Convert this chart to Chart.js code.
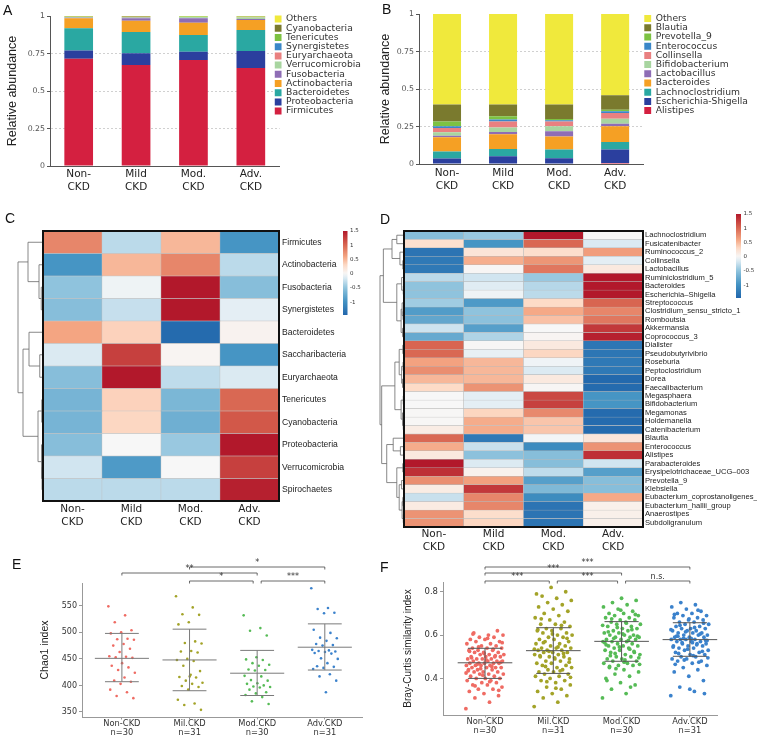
<!DOCTYPE html>
<html><head><meta charset="utf-8">
<script src="https://cdn.jsdelivr.net/npm/chart.js@4.4.1/dist/chart.umd.min.js"></script>
<style>
body{margin:0;background:#fff;width:757px;height:739px;position:relative;overflow:hidden}
canvas{position:absolute}
.lab{position:absolute;font-family:'Liberation Sans',Arial,sans-serif;font-size:14px;line-height:14px;color:#111;z-index:5}
</style></head><body>
<canvas id="cA" width="378" height="200" style="left:0;top:0"></canvas>
<canvas id="cB" width="379" height="200" style="left:378px;top:0"></canvas>
<canvas id="cC" width="378" height="335" style="left:0;top:200px"></canvas>
<canvas id="cD" width="379" height="358" style="left:378px;top:200px"></canvas>
<canvas id="cE" width="378" height="204" style="left:0;top:535px"></canvas>
<canvas id="cF" width="379" height="181" style="left:378px;top:558px"></canvas>
<div class="lab" style="left:3px;top:3px">A</div>
<div class="lab" style="left:382px;top:2px">B</div>
<div class="lab" style="left:5px;top:211px">C</div>
<div class="lab" style="left:380px;top:212px">D</div>
<div class="lab" style="left:12px;top:557px">E</div>
<div class="lab" style="left:380px;top:560px">F</div>
<script>
// ---------------- DATA ----------------
const groupsAB = [['Non-','CKD'],['Mild','CKD'],['Mod.','CKD'],['Adv.','CKD']];
const abTicks = [0, 0.25, 0.5, 0.75, 1];

// Panel A: phylum relative abundance (Non, Mild, Mod, Adv)
const firmicutes      = [0.715, 0.673, 0.707, 0.653];
const proteobacteria  = [0.055, 0.078, 0.055, 0.114];
const bacteroidetes   = [0.148, 0.142, 0.111, 0.140];
const actinobacteria  = [0.067, 0.076, 0.082, 0.066];
const fusobacteria    = [0.004, 0.016, 0.030, 0.007];
const verrucomicrobia = [0.002, 0.003, 0.006, 0.010];
const euryarchaeota   = [0.001, 0.002, 0.001, 0.001];
const synergistetes   = [0.001, 0.001, 0.001, 0.001];
const tenericutes     = [0.002, 0.003, 0.003, 0.003];
const cyanobacteria   = [0.002, 0.002, 0.001, 0.002];
const othersA         = [0.003, 0.004, 0.003, 0.003];
const phylaNames = ['Firmicutes','Proteobacteria','Bacteroidetes','Actinobacteria','Fusobacteria','Verrucomicrobia','Euryarchaeota','Synergistetes','Tenericutes','Cyanobacteria','Others'];
const phylaValues = [firmicutes, proteobacteria, bacteroidetes, actinobacteria, fusobacteria, verrucomicrobia, euryarchaeota, synergistetes, tenericutes, cyanobacteria, othersA];

// Panel B: genus relative abundance
const alistipes        = [0.004, 0.004, 0.003, 0.007];
const escherichia      = [0.032, 0.047, 0.035, 0.089];
const lachnoclostridium= [0.048, 0.049, 0.058, 0.051];
const bacteroides      = [0.094, 0.098, 0.088, 0.104];
const lactobacillus    = [0.011, 0.015, 0.034, 0.018];
const bifidobacterium  = [0.022, 0.031, 0.033, 0.033];
const collinsella      = [0.029, 0.040, 0.033, 0.038];
const enterococcus     = [0.011, 0.012, 0.007, 0.011];
const prevotella9      = [0.033, 0.022, 0.009, 0.011];
const blautia          = [0.112, 0.078, 0.096, 0.096];
const othersB          = [0.604, 0.604, 0.604, 0.542];
const genusNames = ['Alistipes','Escherichia-Shigella','Lachnoclostridium','Bacteroides','Lactobacillus','Bifidobacterium','Collinsella','Enterococcus','Prevotella_9','Blautia','Others'];
const genusValues = [alistipes, escherichia, lachnoclostridium, bacteroides, lactobacillus, bifidobacterium, collinsella, enterococcus, prevotella9, blautia, othersB];

// Panel C heatmap (z-scores), rows top to bottom
const cRows = ['Firmicutes','Actinobacteria','Fusobacteria','Synergistetes','Bacteroidetes','Saccharibacteria','Euryarchaeota','Tenericutes','Cyanobacteria','Proteobacteria','Verrucomicrobia','Spirochaetes'];
const cNon  = [0.8, -0.95, -0.5, -0.55, 0.6, -0.15, -0.55, -0.65, -0.65, -0.55, -0.2, -0.3];
const cMild = [-0.3, 0.5, -0.05, -0.25, 0.35, 1.25, 1.5, 0.35, 0.32, 0.0, -0.9, -0.3];
const cMod  = [0.5, 0.8, 1.5, 1.5, -1.4, 0.03, -0.28, -0.62, -0.7, -0.45, 0.0, -0.3];
const cAdv  = [-0.95, -0.3, -0.55, -0.1, 0.05, -0.95, -0.15, 1.0, 1.1, 1.5, 1.25, 1.45];
const cTree = [[0, [1, [2, 3, 0.07], 0.16], 0.6], [[4, [5, 6, 0.13], 0.56], [[7, 8, 0.05], [9, [10, 11, 0.04], 0.06], 0.2], 0.8], 1.0];

// Panel D heatmap (z-scores)
const dRows = ['Lachnoclostridium','Fusicatenibacter','Ruminococcus_2','Collinsella','Lactobacillus','Ruminiclostridium_5','Bacteroides','Escherichia\u2013Shigella','Streptococcus','Clostridium_sensu_stricto_1','Romboutsia','Akkermansia','Coprococcus_3','Dialister','Pseudobutyrivibrio','Roseburia','Peptoclostridium','Dorea','Faecalibacterium','Megasphaera','Bifidobacterium','Megamonas','Holdemanella','Catenibacterium','Blautia','Enterococcus','Alistipes','Parabacteroides','Erysipelotrichaceae_UCG\u2013003','Prevotella_9','Klebsiella','Eubacterium_coprostanoligenes_','Eubacterium_hallii_group','Anaerostipes','Subdoligranulum'];
const dNon  = [-0.55, 0.25, -1.3, -1.25, -1.25, -0.3, -0.5, -0.5, -0.42, -0.88, -0.78, -0.22, -0.75, 1.02, 1.0, 0.62, 0.75, 0.5, 0.3, 0.0, 0.0, 0.01, 0.01, 0.12, 1.0, 0.56, 0.15, 1.5, 1.35, 0.75, 0.12, -0.24, 0.13, 0.72, 0.72];
const dMild = [-0.45, -0.95, 0.2, 0.55, 0.02, -0.2, -0.12, -0.05, -0.9, -0.5, -0.52, -0.85, -0.35, 0.01, -0.08, 0.5, 0.5, 0.5, 0.72, -0.1, -0.1, 0.33, 0.56, 0.56, -1.25, -0.24, -0.52, -0.14, 0.06, 0.63, 1.3, 0.8, 0.8, 0.27, 0.32];
const dMod  = [1.5, 1.0, 0.27, 0.7, 0.9, -0.45, -0.32, -0.3, 0.3, 0.58, 0.45, 0.0, 0.03, 0.15, 0.32, -0.04, -0.14, 0.15, 0.02, 1.2, 1.25, 0.78, 0.42, 0.42, -0.02, -1.05, -0.55, -0.55, -0.28, -0.85, -0.6, -1.05, -1.3, -1.3, -1.3];
const dAdv  = [0.0, -0.15, 0.65, -0.1, 0.15, 1.5, 1.5, 1.5, 1.02, 0.8, 0.9, 1.3, 1.45, -1.28, -1.28, -1.25, -1.25, -1.42, -1.4, -0.95, -0.95, -1.4, -1.4, -1.4, 0.18, 0.72, 1.35, -0.2, -0.85, -0.55, -0.55, 0.58, 0.08, 0.08, 0.08];
const dTree = [
  [[[0, 1, 0.3], [2, [3, 4, 0.05], 0.17], 0.5],
   [[5, [6, 7, 0.03], 0.1], [[8, [9, 10, 0.04], 0.08], [11, 12, 0.06], 0.12], 0.3], 0.86],
  [[[[13, 14, 0.05], [[15, 16, 0.04], [17, 18, 0.06], 0.1], 0.2], [[19, 20, 0.03], [21, [22, 23, 0.03], 0.06], 0.12], 0.38],
   [[24, [25, 26, 0.15], 0.45], [[27, 28, 0.05], [[29, 30, 0.1], [[31, 32, 0.05], [33, 34, 0.03], 0.08], 0.2], 0.3], 0.72], 0.93],
  1.0];
const heatTicks = [1.5, 1, 0.5, 0, -0.5, -1];

// Panel E: Chao1 index per sample
const dotGroups = [['Non-CKD','n=30'],['Mil.CKD','n=31'],['Mod.CKD','n=30'],['Adv.CKD','n=31']];
const chaoNon = [549,532,519,504,500,498,488,487,486,478,475,469,463,455,454,453,452,442,437,434,429,424,415,409,407,403,392,387,380,376];
const chaoMil = [568,547,534,533,519,515,483,480,479,465,464,462,450,448,446,437,427,417,416,415,409,405,403,399,397,392,373,366,363,354,420];
const chaoMod = [532,508,503,494,453,449,448,442,439,437,430,429,428,418,417,410,409,404,403,400,398,397,396,392,387,385,382,378,370,365];
const chaoAdv = [583,546,544,537,536,505,499,490,489,484,478,476,475,467,466,465,464,463,461,460,451,450,442,436,435,433,431,421,417,409,387];
const chaoMean = [451, 448, 423, 472];
const chaoLow  = [407, 390, 381, 429];
const chaoHigh = [498, 506, 466, 516];
const chaoTicks = [350, 400, 450, 500, 550];
const chaoBrackets = [[2, 4, 0, '*'], [1, 3, 1, '**'], [2, 3, 2, '*'], [3, 4, 2, '***']];

// Panel F: Bray-Curtis similarity (sampled pairs)
const bcNon = [0.26,0.29,0.31,0.32,0.33,0.34,0.35,0.35,0.36,0.37,0.37,0.38,0.38,0.39,0.39,0.40,0.40,0.40,0.41,0.41,0.42,0.42,0.42,0.43,0.43,0.43,0.44,0.44,0.44,0.45,0.45,0.45,0.45,0.46,0.46,0.46,0.46,0.47,0.47,0.47,0.47,0.47,0.48,0.48,0.48,0.48,0.49,0.49,0.49,0.49,0.50,0.50,0.50,0.50,0.51,0.51,0.51,0.52,0.52,0.52,0.53,0.53,0.53,0.54,0.54,0.54,0.55,0.55,0.56,0.56,0.57,0.57,0.58,0.58,0.59,0.59,0.60,0.60,0.61,0.62,0.415,0.435,0.455,0.465,0.475,0.485,0.495,0.505,0.445,0.425,0.385,0.365,0.345,0.515,0.525,0.535,0.545,0.565,0.585,0.605];
const bcMil = [0.27,0.29,0.31,0.32,0.33,0.34,0.35,0.36,0.37,0.38,0.39,0.39,0.40,0.41,0.41,0.42,0.42,0.43,0.43,0.44,0.44,0.45,0.45,0.46,0.46,0.47,0.47,0.48,0.48,0.49,0.49,0.50,0.50,0.50,0.51,0.51,0.52,0.52,0.52,0.53,0.53,0.53,0.54,0.54,0.54,0.55,0.55,0.56,0.56,0.57,0.57,0.58,0.58,0.59,0.59,0.60,0.60,0.61,0.61,0.62,0.62,0.63,0.63,0.64,0.65,0.65,0.66,0.67,0.68,0.69,0.70,0.71,0.72,0.73,0.74,0.75,0.76,0.77,0.78,0.80,0.82,0.79,0.435,0.455,0.475,0.495,0.505,0.515,0.525,0.535,0.545,0.565,0.585,0.605,0.625,0.645,0.385,0.405,0.355,0.675];
const bcMod = [0.31,0.33,0.35,0.37,0.38,0.40,0.41,0.42,0.43,0.44,0.45,0.46,0.46,0.47,0.47,0.48,0.48,0.49,0.49,0.50,0.50,0.51,0.51,0.52,0.52,0.53,0.53,0.54,0.54,0.55,0.55,0.55,0.56,0.56,0.57,0.57,0.57,0.58,0.58,0.58,0.59,0.59,0.59,0.60,0.60,0.60,0.61,0.61,0.62,0.62,0.63,0.63,0.64,0.64,0.65,0.65,0.66,0.66,0.67,0.67,0.68,0.68,0.69,0.69,0.70,0.70,0.71,0.72,0.73,0.74,0.75,0.76,0.77,0.39,0.36,0.445,0.465,0.485,0.505,0.525,0.545,0.565,0.575,0.585,0.595,0.605,0.615,0.625,0.635,0.645,0.655,0.675,0.695,0.715,0.555,0.535,0.515,0.495,0.475,0.455];
const bcAdv = [0.32,0.34,0.36,0.39,0.41,0.43,0.44,0.45,0.46,0.47,0.48,0.48,0.49,0.49,0.50,0.50,0.51,0.51,0.52,0.52,0.53,0.53,0.54,0.54,0.55,0.55,0.55,0.56,0.56,0.56,0.57,0.57,0.57,0.58,0.58,0.58,0.58,0.59,0.59,0.59,0.60,0.60,0.60,0.61,0.61,0.61,0.62,0.62,0.62,0.63,0.63,0.63,0.64,0.64,0.65,0.65,0.66,0.66,0.67,0.67,0.68,0.68,0.69,0.69,0.70,0.70,0.71,0.72,0.73,0.74,0.75,0.33,0.35,0.465,0.475,0.485,0.495,0.505,0.515,0.525,0.535,0.545,0.555,0.565,0.575,0.585,0.595,0.605,0.615,0.625,0.635,0.645,0.655,0.675,0.695,0.715,0.585,0.575,0.565,0.595];
const bcMean = [0.472, 0.528, 0.571, 0.579];
const bcLow  = [0.400, 0.423, 0.479, 0.502];
const bcHigh = [0.539, 0.634, 0.662, 0.657];
const bcTicks = [0.4, 0.6, 0.8];
const bcBrackets = [[1, 4, 0, '***'], [1, 3, 1, '***'], [1, 2, 2, '***'], [2, 3, 2, '***'], [3, 4, 2, 'n.s.']];

// ---------------- STYLE ----------------
const SANS = "'Liberation Sans',Arial,sans-serif";
const WIDE = "'DejaVu Sans',Verdana,sans-serif";
const phylaColors = ['#d42040','#2b3f9e','#2aa8a2','#f5a024','#8e6db5','#a8d5a0','#e98080','#3a87c8','#7dc242','#7a7a2e','#f0e93c'];
const genusColors = ['#d42040','#2b3f9e','#2aa8a2','#f5a024','#8e6db5','#a8d5a0','#e98080','#3a87c8','#7dc242','#7a7a2e','#f0e93c'];
const dotColors = ['#ef6b63','#a3a328','#56bb56','#3b82cc'];
const heatStops = [[-1.45,'#2166ac'],[-0.97,'#4393c3'],[-0.48,'#92c5de'],[-0.2,'#d1e5f0'],[0,'#f7f7f7'],[0.3,'#fddbc7'],[0.6,'#f4a582'],[1.05,'#d6604d'],[1.5,'#b2182b']];

Chart.defaults.animation = false;
Chart.defaults.responsive = false;
Chart.defaults.maintainAspectRatio = false;
Chart.defaults.plugins.legend.display = false;
Chart.defaults.plugins.tooltip.enabled = false;
Chart.defaults.font.family = WIDE;
Chart.defaults.color = '#333';

function hex2rgb(h){return [parseInt(h.slice(1,3),16),parseInt(h.slice(3,5),16),parseInt(h.slice(5,7),16)];}
function heatColor(v){
  if (v <= heatStops[0][0]) return heatStops[0][1];
  for (let i = 1; i < heatStops.length; i++) {
    if (v <= heatStops[i][0]) {
      const [v0,c0] = heatStops[i-1], [v1,c1] = heatStops[i];
      const t = (v - v0) / (v1 - v0), a = hex2rgb(c0), b = hex2rgb(c1);
      return 'rgb(' + a.map((x,k)=>Math.round(x + (b[k]-x)*t)).join(',') + ')';
    }
  }
  return heatStops[heatStops.length-1][1];
}

function legendShift(dx, dy){
  return {id:'legendShift', afterLayout(chart){const l = chart.legend; if(!l) return; l.left+=dx; l.right+=dx; l.top+=dy; l.bottom+=dy;}};
}

// ---------------- A & B stacked bars ----------------
function stackChart(id, names, values, colors, o){
  return new Chart(document.getElementById(id), {
    type: 'bar',
    data: {labels: groupsAB, datasets: names.map((n,i)=>({label:n, data:values[i], backgroundColor:colors[i], borderWidth:0, barPercentage:0.5, categoryPercentage:1}))},
    options: {
      layout: {padding: {top:o.top, right:o.right, left:0, bottom:0}},
      scales: {
        x: {stacked:true, grid:{display:false, drawTicks:false}, border:{color:'#555', width:1},
            ticks:{font:{family:WIDE, size:10.5, lineHeight:1.25}, color:'#222', padding:o.xpad, maxRotation:0, autoSkip:false},
            afterFit(s){s.height = o.xh;}},
        y: {stacked:true, min:0, max:1,
            afterBuildTicks(s){s.ticks = abTicks.map(v=>({value:v}));},
            ticks:{font:{family:WIDE, size:7.8}, color:'#555', padding:2, callback:v=>String(v)},
            grid:{color:c=>(c.tick && c.tick.value>0 && c.tick.value<1) ? '#c4c4c4' : 'rgba(0,0,0,0)', lineWidth:0.8, tickColor:'#555', tickLength:3, tickWidth:1},
            border:{color:'#555', width:1, dash:[2,2]},
            title:{display:true, text:'Relative abundance', font:{family:SANS, size:12.5}, color:'#222', padding:{top:o.tpad, bottom:0}},
            afterFit(s){s.width = o.yw;}}
      },
      plugins: {legend:{display:true, position:'right', align:'start', reverse:true, maxWidth:200,
        labels:{boxWidth:7, boxHeight:7, padding:0, font:{family:WIDE, size:9.2}, color:'#333'}}}
    },
    plugins: [legendShift(o.dx, o.dy)]
  });
}
stackChart('cA', phylaNames, phylaValues, phylaColors, {top:16, right:2, xh:34, yw:50, xpad:2, tpad:5.5, dx:-5, dy:-1.5});
stackChart('cB', genusNames, genusValues, genusColors, {top:14, right:0, xh:36, yw:41, xpad:3, tpad:0, dx:1, dy:0});

// ---------------- C & D heatmaps ----------------
function drawTree(ctx, node, yOf, x0, w){
  if (typeof node === 'number') return {y:yOf(node), h:0};
  const a = drawTree(ctx, node[0], yOf, x0, w), b = drawTree(ctx, node[1], yOf, x0, w);
  const h = node[2], xh = x0 - h*w;
  ctx.beginPath();
  ctx.moveTo(x0 - a.h*w, a.y); ctx.lineTo(xh, a.y); ctx.lineTo(xh, b.y); ctx.lineTo(x0 - b.h*w, b.y);
  ctx.stroke();
  return {y:(a.y+b.y)/2, h:h};
}
function heatPlugin(cfg){
  return {id:'heatDeco', afterDraw(chart){
    const ctx = chart.ctx, ca = chart.chartArea, rs = chart.scales.rows;
    ctx.save();
    ctx.strokeStyle = '#6a6a6a'; ctx.lineWidth = 0.8;
    drawTree(ctx, cfg.tree, i=>rs.getPixelForValue(i), ca.left, cfg.treeW);
    ctx.strokeStyle = '#111'; ctx.lineWidth = 2;
    ctx.strokeRect(ca.left, ca.top, ca.right-ca.left, ca.bottom-ca.top);
    const bx = ca.right + cfg.cbx, by = ca.top + cfg.cby, bw = cfg.cbw, bh = cfg.cbh;
    const vmax = 1.5, vmin = -1.45;
    const g = ctx.createLinearGradient(0, by, 0, by+bh);
    for (let k = 0; k <= 30; k++) { const t = k/30; g.addColorStop(t, heatColor(vmax - t*(vmax-vmin))); }
    ctx.fillStyle = g; ctx.fillRect(bx, by, bw, bh);
    ctx.fillStyle = '#333'; ctx.font = '5.5px ' + WIDE; ctx.textBaseline = 'middle'; ctx.textAlign = 'left';
    heatTicks.forEach(v=>{ ctx.fillText(String(v), bx + bw + 2.5, by + (vmax - v)/(vmax - vmin)*bh); });
    ctx.restore();
  }};
}
function heatChart(id, rows, cols, o){
  const N = rows.length, ds = [];
  for (let r = N-1; r >= 0; r--) {
    ds.push({label:rows[r], data:cols.map(()=>1), backgroundColor:cols.map(c=>heatColor(c[r])),
      borderColor:'#b9b9b9', borderWidth:0.5, borderSkipped:false, barPercentage:1, categoryPercentage:1});
  }
  return new Chart(document.getElementById(id), {
    type:'bar',
    data:{labels:groupsAB, datasets:ds},
    options:{
      layout:{padding:{left:o.left, top:o.top, right:0, bottom:0}},
      scales:{
        x:{stacked:true, grid:{display:false, drawTicks:false}, border:{display:false},
           ticks:{font:{family:WIDE, size:10.5, lineHeight:1.25}, color:'#222', padding:o.xpad, maxRotation:0, autoSkip:false},
           afterFit(s){s.height = o.xh;}},
        y:{stacked:true, display:false, min:0, max:N},
        rows:{type:'category', labels:rows, position:'right', offset:true,
              grid:{display:false, drawTicks:false}, border:{display:false},
              ticks:{font:{family:SANS, size:o.fs}, color:'#222', padding:o.rpad, autoSkip:false},
              afterFit(s){s.width = o.rw;}}
      }
    },
    plugins:[heatPlugin(o)]
  });
}
heatChart('cC', cRows, [cNon, cMild, cMod, cAdv], {left:43, top:31, xh:34, rw:99, xpad:2, rpad:3, fs:8.6, tree:cTree, treeW:25, cbx:64, cby:0, cbw:4.5, cbh:84});
heatChart('cD', dRows, [dNon, dMild, dMod, dAdv], {left:26, top:31, xh:31, rw:114, xpad:1, rpad:2, fs:7.6, tree:dTree, treeW:24, cbx:93, cby:-17, cbw:5, cbh:84});

// ---------------- E & F dot plots ----------------
function jitter(i){ const f = (i*0.6180339887) % 1; return f - 0.5; }
function dotPlugin(o){
  return {id:'dotDeco', afterDatasetsDraw(chart){
    const ctx = chart.ctx, xs = chart.scales.x, ys = chart.scales.y, ca = chart.chartArea;
    ctx.save();
    ctx.strokeStyle = o.lineColor; ctx.lineWidth = 1;
    o.mean.forEach((m,g)=>{
      const c = g+1, xc = xs.getPixelForValue(c);
      const yl = ys.getPixelForValue(o.low[g]), yh = ys.getPixelForValue(o.high[g]), ym = ys.getPixelForValue(m);
      ctx.beginPath();
      ctx.moveTo(xs.getPixelForValue(c-0.4), ym); ctx.lineTo(xs.getPixelForValue(c+0.4), ym);
      ctx.moveTo(xs.getPixelForValue(c-0.25), yh); ctx.lineTo(xs.getPixelForValue(c+0.25), yh);
      ctx.moveTo(xs.getPixelForValue(c-0.25), yl); ctx.lineTo(xs.getPixelForValue(c+0.25), yl);
      ctx.moveTo(xc, yh); ctx.lineTo(xc, yl);
      ctx.stroke();
    });
    ctx.strokeStyle = '#444'; ctx.lineWidth = 0.8; ctx.fillStyle = '#333';
    ctx.font = '8px ' + WIDE; ctx.textAlign = 'center'; ctx.textBaseline = 'bottom';
    o.brackets.forEach(b=>{
      const [g1,g2,row,lab] = b;
      let x1 = xs.getPixelForValue(g1), x2 = xs.getPixelForValue(g2);
      if (o.brackets.some(q=>q!==b && q[2]===row && q[1]===g1)) x1 += 4;
      if (o.brackets.some(q=>q!==b && q[2]===row && q[0]===g2)) x2 -= 4;
      const y = ca.top + o.rowY[row];
      ctx.beginPath(); ctx.moveTo(x1, y+2.5); ctx.lineTo(x1, y); ctx.lineTo(x2, y); ctx.lineTo(x2, y+2.5); ctx.stroke();
      ctx.fillText(lab, (x1+x2)/2, y - 0.5);
    });
    ctx.restore();
  }};
}
function dotChart(id, series, o){
  return new Chart(document.getElementById(id), {
    type:'scatter',
    data:{datasets:series.map((vals,g)=>({data:vals.map((v,i)=>({x:g+1+jitter(i)*2*o.jw, y:v})),
      backgroundColor:dotColors[g], borderWidth:0, pointRadius:o.r, pointHoverRadius:o.r}))},
    options:{
      layout:{padding:{top:o.top, right:o.right, left:0, bottom:0}},
      scales:{
        x:{type:'linear', min:o.xmin, max:o.xmax,
           afterBuildTicks(s){s.ticks = dotGroups.map((_,i)=>({value:i+1}));},
           ticks:{callback:v=>dotGroups[v-1], font:{family:WIDE, size:8.3, lineHeight:1.1}, color:'#333', padding:o.xpad, maxRotation:0, autoSkip:false},
           grid:{drawOnChartArea:false, tickLength:2.5, tickColor:'#999', tickWidth:1}, border:{color:'#999', width:1},
           afterFit(s){s.height = o.xh;}},
        y:{min:o.ymin, max:o.ymax,
           afterBuildTicks(s){s.ticks = o.yticks.map(v=>({value:v}));},
           ticks:{font:{family:WIDE, size:o.yfs}, color:'#333', padding:2, callback:v=>String(v)},
           grid:{drawOnChartArea:false, tickLength:3, tickColor:'#999', tickWidth:1}, border:{color:'#999', width:1},
           title:{display:true, text:o.title, font:{family:SANS, size:o.tfs}, color:'#222', padding:{top:o.tpad, bottom:0}},
           afterFit(s){s.width = o.yw;}}
      }
    },
    plugins:[dotPlugin(o)]
  });
}
dotChart('cE', [chaoNon, chaoMil, chaoMod, chaoAdv], {top:48, right:16, xh:22, yw:82, xpad:0, tpad:38.7, tfs:10.5, yfs:8, r:1.3, jw:0.2,
  xmin:0.41, xmax:4.55, ymin:340.5, ymax:593, yticks:chaoTicks, title:'Chao1 index',
  mean:chaoMean, low:chaoLow, high:chaoHigh, lineColor:'#7a7a7a', brackets:chaoBrackets, rowY:[-16,-10,-2]});
dotChart('cF', [bcNon, bcMil, bcMod, bcAdv], {top:24, right:40, xh:24, yw:65, xpad:0, tpad:24, tfs:10, yfs:8.5, r:1.9, jw:0.28,
  xmin:0.385, xmax:4.397, ymin:0.231, ymax:0.845, yticks:bcTicks, title:'Bray-Curtis similarity index',
  mean:bcMean, low:bcLow, high:bcHigh, lineColor:'#555', brackets:bcBrackets, rowY:[-15,-9,-1]});
</script>
</body></html>
